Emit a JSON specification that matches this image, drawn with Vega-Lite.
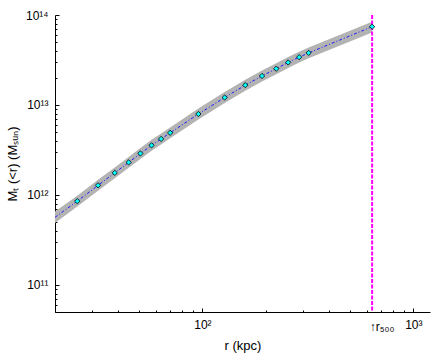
{
  "$schema": "https://vega.github.io/schema/vega-lite/v6.json",
  "width": 375,
  "height": 297,
  "autosize": "none",
  "padding": {"left": 55, "top": 15, "right": 6, "bottom": 41},
  "config": {
    "view": {"stroke": null},
    "font": "Liberation Sans",
    "axis": {
      "labelFont": "Liberation Sans",
      "titleFont": "Liberation Sans",
      "labelColor": "black",
      "titleColor": "black",
      "domainColor": "black",
      "tickColor": "black",
      "grid": false,
      "labelFontSize": 12,
      "titleFontSize": 13,
      "titleFontWeight": "normal"
    }
  },
  "datasets": {
    "curve": [
      {"r": 20, "m": 5.64e11, "lo": 4.88e11, "hi": 6.55e11},
      {"r": 25.5, "m": 8.53e11, "lo": 7.42e11, "hi": 9.81e11},
      {"r": 32.0, "m": 1.28e12, "lo": 1.113e12, "hi": 1.472e12},
      {"r": 38.4, "m": 1.76e12, "lo": 1.53e12, "hi": 2.024e12},
      {"r": 44.7, "m": 2.30e12, "lo": 2.0e12, "hi": 2.645e12},
      {"r": 50.8, "m": 2.89e12, "lo": 2.513e12, "hi": 3.324e12},
      {"r": 57.4, "m": 3.56e12, "lo": 3.096e12, "hi": 4.094e12},
      {"r": 63.7, "m": 4.19e12, "lo": 3.643e12, "hi": 4.819e12},
      {"r": 70.3, "m": 4.90e12, "lo": 4.261e12, "hi": 5.635e12},
      {"r": 95.7, "m": 7.94e12, "lo": 6.904e12, "hi": 9.131e12},
      {"r": 127.5, "m": 1.21e13, "lo": 1.052e13, "hi": 1.392e13},
      {"r": 159.7, "m": 1.66e13, "lo": 1.443e13, "hi": 1.909e13},
      {"r": 191.7, "m": 2.10e13, "lo": 1.826e13, "hi": 2.415e13},
      {"r": 224, "m": 2.53e13, "lo": 2.2e13, "hi": 2.91e13},
      {"r": 255, "m": 2.97e13, "lo": 2.583e13, "hi": 3.416e13},
      {"r": 287.6, "m": 3.40e13, "lo": 2.957e13, "hi": 3.91e13},
      {"r": 319, "m": 3.79e13, "lo": 3.296e13, "hi": 4.359e13},
      {"r": 638, "m": 7.41e13, "lo": 6.4e13, "hi": 8.4e13}
    ],
    "points": [
      {"r": 25.5, "m": 8.53e11},
      {"r": 32.0, "m": 1.28e12},
      {"r": 38.4, "m": 1.76e12},
      {"r": 44.7, "m": 2.30e12},
      {"r": 50.8, "m": 2.89e12},
      {"r": 57.4, "m": 3.56e12},
      {"r": 63.7, "m": 4.19e12},
      {"r": 70.3, "m": 4.90e12},
      {"r": 95.7, "m": 7.94e12},
      {"r": 127.5, "m": 1.21e13},
      {"r": 159.7, "m": 1.66e13},
      {"r": 191.7, "m": 2.10e13},
      {"r": 224, "m": 2.53e13},
      {"r": 255, "m": 2.97e13},
      {"r": 287.6, "m": 3.40e13},
      {"r": 319, "m": 3.79e13},
      {"r": 638, "m": 7.41e13}
    ],
    "r500": [{"r": 638}]
  },
  "layer": [
    {
      "data": {"name": "curve"},
      "mark": {"type": "area", "color": "#b3b3b3", "opacity": 1},
      "encoding": {
        "x": {
          "field": "r", "type": "quantitative",
          "scale": {"type": "log", "domain": [20, 1200], "nice": false},
          "axis": {
            "title": "r (kpc)",
            "titlePadding": 7,
            "values": [20, 30, 40, 50, 60, 70, 80, 90, 100, 200, 300, 400, 500, 600, 638, 700, 800, 900, 1000],
            "labelExpr": "datum.value == 100 ? '10²' : datum.value == 1000 ? '10³' : datum.value == 638 ? '↑r₅₀₀' : ''",
            "labelAlign": {"condition": {"test": "datum.value == 638", "value": "left"}, "value": "center"},
            "labelOffset": {"condition": {"test": "datum.value == 638", "value": -3}, "value": 0},
            "labelFlush": false,
            "labelOverlap": false,
            "labelPadding": 11,
            "tickSize": {"condition": {"test": "datum.value == 100 || datum.value == 1000", "value": -4}, "value": -2},
            "tickOpacity": {"condition": {"test": "datum.value == 638", "value": 0}, "value": 1}
          }
        },
        "y": {
          "field": "lo", "type": "quantitative",
          "scale": {"type": "log", "domain": [5e10, 1e14], "nice": false},
          "axis": {
            "title": "Mₜ (<r) (Mₛᵤₙ)",
            "titlePadding": 6,
            "values": [5e10, 6e10, 7e10, 8e10, 9e10, 1e11, 2e11, 3e11, 4e11, 5e11, 6e11, 7e11, 8e11, 9e11, 1e12, 2e12, 3e12, 4e12, 5e12, 6e12, 7e12, 8e12, 9e12, 1e13, 2e13, 3e13, 4e13, 5e13, 6e13, 7e13, 8e13, 9e13, 1e14],
            "labelExpr": "datum.value == 1e11 ? '10¹¹' : datum.value == 1e12 ? '10¹²' : datum.value == 1e13 ? '10¹³' : datum.value == 1e14 ? '10¹⁴' : ''",
            "labelFlush": false,
            "labelOverlap": false,
            "labelPadding": 11,
            "tickSize": {"condition": {"test": "datum.value == 1e11 || datum.value == 1e12 || datum.value == 1e13 || datum.value == 1e14", "value": -4}, "value": -2}
          }
        },
        "y2": {"field": "hi"}
      }
    },
    {
      "data": {"name": "curve"},
      "mark": {"type": "line", "color": "#1a1aff", "strokeWidth": 1, "strokeDash": [3, 2, 1, 2]},
      "encoding": {
        "x": {"field": "r", "type": "quantitative"},
        "y": {"field": "m", "type": "quantitative"}
      }
    },
    {
      "data": {"name": "r500"},
      "mark": {"type": "rule", "color": "#ff00ff", "strokeWidth": 2, "strokeDash": [4, 1.5]},
      "encoding": {
        "x": {"field": "r", "type": "quantitative"}
      }
    },
    {
      "data": {"name": "points"},
      "mark": {"type": "point", "shape": "diamond", "filled": true, "fill": "#00ffff", "stroke": "black", "strokeWidth": 0.8, "size": 28, "opacity": 1},
      "encoding": {
        "x": {"field": "r", "type": "quantitative"},
        "y": {"field": "m", "type": "quantitative"}
      }
    }
  ]
}
